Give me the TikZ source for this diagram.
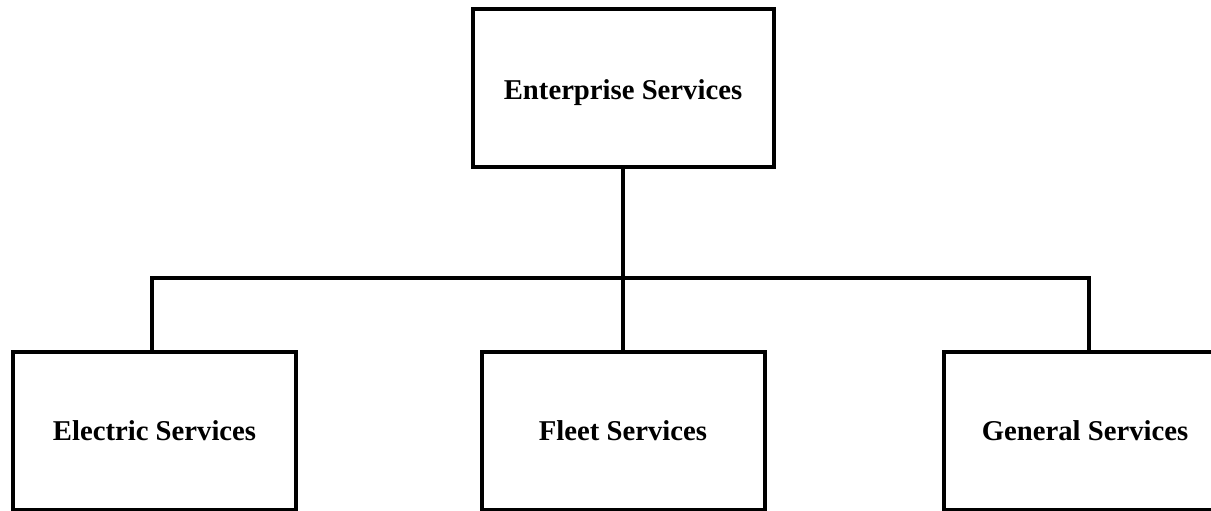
\documentclass[tikz,border=0pt]{standalone}
\usepackage{fontspec}
\setmainfont{Liberation Serif}
\usetikzlibrary{positioning}

\begin{document}
\begin{tikzpicture}[
x = 1pt, y = -1pt, % pixel units, y going down
line width = 4pt, % heavy lines
font = \fontsize{28.7}{34}\selectfont\bfseries
]

\tikzstyle{dept}=[
draw = black,
line width = 4pt,
fill = white,
inner sep = 0pt,
minimum width = 283pt,
minimum height = 158pt
]

\useasboundingbox (0,0) rectangle (1211,511);
\clip (0,0) rectangle (1211,511);

\node[dept, minimum width = 301pt, minimum height = 157pt, text height = 30pt] (ent) at (623,88) {Enterprise Services};
\node[dept] (elec) at (154.5,430.5) {Electric Services};
\node[dept] (fleet) at (623,430.5) {Fleet Services};
\node[dept] (gen) at (1085,430.5) {General Services};

\coordinate (bus) at (623,277.5);

\draw (ent.south) -- (fleet.north);
\draw ([xshift=-3pt]elec.north) |- (bus) -| ([xshift=3.5pt]gen.north);

\end{tikzpicture}
\end{document}
